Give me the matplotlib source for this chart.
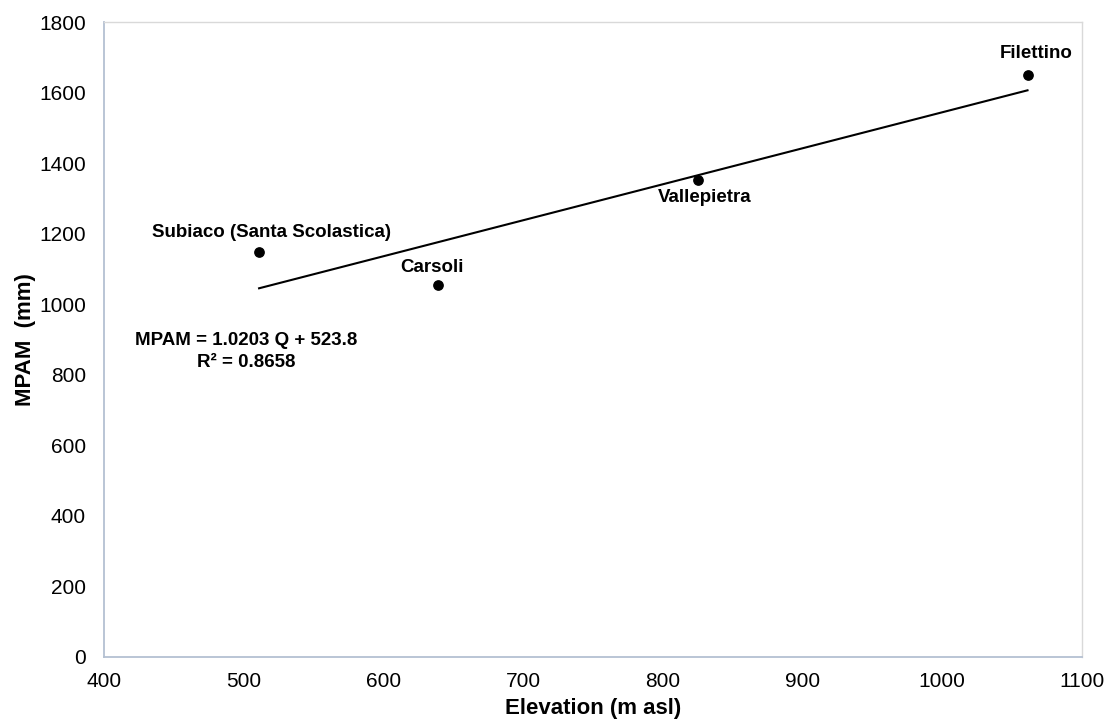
import matplotlib
matplotlib.use("Agg")
import matplotlib.pyplot as plt

plt.rcParams['font.family'] = ['Liberation Sans', 'DejaVu Sans']

stations = ["Subiaco (Santa Scolastica)", "Carsoli", "Vallepietra", "Filettino"]
elevation = [511, 639, 825, 1061]
mpam = [1149, 1054, 1351, 1651]

slope = 1.0203
intercept = 523.8
r2 = 0.8658

fig = plt.figure(figsize=(11.12, 7.25), dpi=100)
ax = fig.add_axes([104 / 1112, 1 - 657 / 725, (1082 - 104) / 1112, (657 - 22) / 725])

ax.scatter(elevation, mpam, s=45, color='black', zorder=3)

x_fit = [min(elevation), max(elevation)]
y_fit = [slope * x + intercept for x in x_fit]
ax.plot(x_fit, y_fit, color='black', lw=1.5, zorder=2)

# label offsets in points (dx, dy)
label_offsets = {
    "Subiaco (Santa Scolastica)": (9, 14),
    "Carsoli": (-4, 12.5),
    "Vallepietra": (5, -12.5),
    "Filettino": (6, 15.5),
}
for name, x, y in zip(stations, elevation, mpam):
    dx, dy = label_offsets[name]
    ax.annotate(name, (x, y), xytext=(dx, dy), textcoords='offset points',
                ha='center', va='center', fontsize=13.5, fontweight='bold')

ax.text(0.145, 0.499, f"MPAM = {slope:.4f} Q + {intercept}", transform=ax.transAxes,
        ha='center', va='center', fontsize=13.5, fontweight='bold')
ax.text(0.145, 0.464, f"R² = {r2}", transform=ax.transAxes,
        ha='center', va='center', fontsize=13.5, fontweight='bold')

ax.set_xlim(400, 1100)
ax.set_ylim(0, 1800)
ax.set_xticks(range(400, 1101, 100))
ax.set_yticks(range(0, 1801, 200))
ax.tick_params(length=0, labelsize=15)
ax.tick_params(axis='x', pad=11)
ax.tick_params(axis='y', pad=13)

for side in ['left', 'bottom']:
    ax.spines[side].set_color('#b4c0d2')
    ax.spines[side].set_linewidth(1.3)
for side in ['top', 'right']:
    ax.spines[side].set_color('#d9d9d9')
    ax.spines[side].set_linewidth(1.0)

ax.set_xlabel("Elevation (m asl)", fontsize=16, fontweight='bold', labelpad=5)
ax.set_ylabel("MPAM  (mm)", fontsize=16, fontweight='bold', labelpad=2)

fig.savefig("out.png", dpi=100)
